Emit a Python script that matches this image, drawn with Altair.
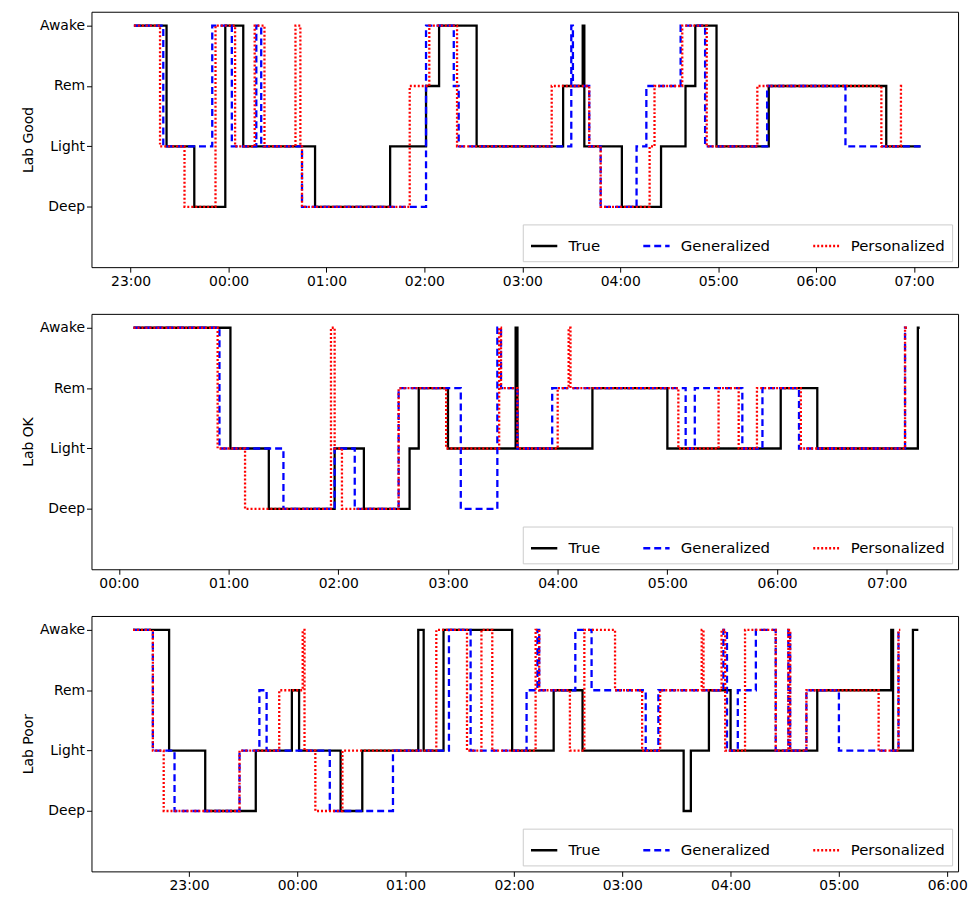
import pandas as pd
import altair as alt

stage_value = {"Deep": 0, "Light": 1, "Rem": 2, "Awake": 3}
series_order = ["True", "Generalized", "Personalized"]

# (clock time, stage) change points; last entry marks the end of the record
good_true = [("23:02", "Awake"), ("23:22", "Light"), ("23:39", "Deep"), ("23:58", "Awake"), ("00:09", "Light"),
             ("00:53", "Deep"), ("01:39", "Light"), ("02:01", "Rem"), ("02:09", "Awake"), ("02:32", "Light"),
             ("03:25", "Rem"), ("03:37", "Awake"), ("03:38", "Light"), ("04:01", "Deep"), ("04:25", "Light"),
             ("04:40", "Rem"), ("04:46", "Awake"), ("04:59", "Light"), ("05:31", "Rem"), ("06:43", "Light"),
             ("07:04", "Light")]
good_gen = [("23:02", "Awake"), ("23:20", "Light"), ("23:50", "Awake"), ("00:02", "Light"), ("00:17", "Awake"),
            ("00:20", "Light"), ("00:45", "Deep"), ("02:01", "Awake"), ("02:18", "Rem"), ("02:21", "Light"),
            ("03:30", "Awake"), ("03:31", "Rem"), ("03:41", "Light"), ("03:48", "Deep"), ("04:10", "Light"),
            ("04:16", "Rem"), ("04:37", "Awake"), ("04:52", "Light"), ("05:30", "Rem"), ("06:18", "Light"),
            ("07:04", "Light")]
good_pers = [("23:02", "Awake"), ("23:18", "Light"), ("23:33", "Deep"), ("23:52", "Awake"), ("00:04", "Light"),
             ("00:16", "Awake"), ("00:22", "Light"), ("00:41", "Awake"), ("00:44", "Light"), ("00:45", "Deep"),
             ("01:51", "Rem"), ("02:03", "Awake"), ("02:20", "Light"), ("03:18", "Rem"), ("03:41", "Light"),
             ("03:48", "Deep"), ("04:18", "Light"), ("04:21", "Rem"), ("04:38", "Awake"), ("04:53", "Light"),
             ("05:24", "Rem"), ("06:40", "Light"), ("06:52", "Rem"), ("06:53", "Rem")]

ok_true = [("00:08", "Awake"), ("01:01", "Light"), ("01:22", "Deep"), ("01:58", "Light"), ("02:14", "Deep"),
           ("02:39", "Light"), ("02:44", "Rem"), ("03:00", "Light"), ("03:37", "Awake"), ("03:38", "Light"),
           ("04:19", "Rem"), ("05:00", "Light"), ("06:02", "Rem"), ("06:22", "Light"), ("07:17", "Awake"),
           ("07:18", "Awake")]
ok_gen = [("00:08", "Awake"), ("00:55", "Light"), ("01:30", "Deep"), ("01:58", "Light"), ("02:09", "Deep"),
          ("02:33", "Rem"), ("03:07", "Deep"), ("03:27", "Awake"), ("03:29", "Rem"), ("03:38", "Light"),
          ("03:57", "Rem"), ("05:10", "Light"), ("05:15", "Rem"), ("05:41", "Light"), ("05:52", "Rem"),
          ("06:12", "Light"), ("07:10", "Awake"), ("07:11", "Awake")]
ok_pers = [("00:08", "Awake"), ("00:54", "Light"), ("01:09", "Deep"), ("01:56", "Awake"), ("01:58", "Light"),
           ("02:02", "Deep"), ("02:33", "Rem"), ("02:59", "Light"), ("03:28", "Awake"), ("03:29", "Rem"),
           ("03:38", "Light"), ("04:00", "Rem"), ("04:06", "Awake"), ("04:07", "Rem"), ("05:06", "Light"),
           ("05:28", "Rem"), ("05:39", "Light"), ("05:49", "Rem"), ("06:13", "Light"), ("07:10", "Awake"),
           ("07:11", "Awake")]

poor_true = [("22:29", "Awake"), ("22:49", "Light"), ("23:09", "Deep"), ("23:37", "Light"), ("23:57", "Rem"),
             ("00:01", "Light"), ("00:24", "Deep"), ("00:36", "Light"), ("01:07", "Awake"), ("01:10", "Light"),
             ("01:21", "Awake"), ("01:59", "Light"), ("02:22", "Rem"), ("02:38", "Light"), ("03:34", "Deep"),
             ("03:38", "Light"), ("03:48", "Rem"), ("04:00", "Light"), ("04:48", "Rem"), ("05:29", "Awake"),
             ("05:30", "Light"), ("05:41", "Awake"), ("05:44", "Awake")]
poor_gen = [("22:29", "Awake"), ("22:40", "Light"), ("22:52", "Deep"), ("23:28", "Light"), ("23:39", "Rem"),
            ("23:43", "Light"), ("00:18", "Deep"), ("00:53", "Light"), ("01:24", "Awake"), ("01:36", "Light"),
            ("02:07", "Rem"), ("02:13", "Awake"), ("02:14", "Rem"), ("02:34", "Awake"), ("02:43", "Rem"),
            ("03:13", "Light"), ("03:20", "Rem"), ("03:56", "Awake"), ("03:58", "Light"), ("04:04", "Rem"),
            ("04:14", "Awake"), ("04:25", "Light"), ("04:32", "Awake"), ("04:33", "Light"), ("04:42", "Rem"),
            ("05:00", "Light"), ("05:33", "Awake"), ("05:34", "Awake")]
poor_pers = [("22:29", "Awake"), ("22:40", "Light"), ("22:46", "Deep"), ("23:28", "Light"), ("23:50", "Rem"),
             ("00:03", "Awake"), ("00:04", "Light"), ("00:10", "Deep"), ("00:25", "Light"), ("01:17", "Awake"),
             ("01:34", "Light"), ("01:42", "Awake"), ("01:48", "Light"), ("02:12", "Awake"), ("02:14", "Rem"),
             ("02:31", "Light"), ("02:39", "Awake"), ("02:56", "Rem"), ("03:11", "Light"), ("03:21", "Rem"),
             ("03:44", "Awake"), ("03:45", "Rem"), ("03:55", "Awake"), ("03:57", "Light"), ("04:08", "Awake"),
             ("04:25", "Light"), ("04:32", "Awake"), ("04:33", "Light"), ("04:42", "Rem"), ("05:22", "Light"),
             ("05:33", "Awake"), ("05:34", "Awake")]

panels = [
    ("Lab Good", [good_true, good_gen, good_pers], ("22:36", "07:27")),
    ("Lab OK", [ok_true, ok_gen, ok_pers], ("23:45", "07:39")),
    ("Lab Poor", [poor_true, poor_gen, poor_pers], ("22:06", "06:06")),
]


def dt(clock):
    h, m = int(clock[:2]), int(clock[3:])
    return alt.DateTime(year=2024, month=1, date=1 if h >= 12 else 2, hours=h, minutes=m, utc=True)


def stamp(clock):
    day = "2024-01-01" if int(clock[:2]) >= 12 else "2024-01-02"
    return f"{day}T{clock}:00Z"


def make_legend():
    return alt.Legend(orient="bottom-right", direction="horizontal", columns=3,
                      symbolType="stroke", symbolStrokeWidth=2.5, symbolSize=700,
                      labelFontSize=15, fillColor="white", strokeColor="#cccccc",
                      padding=7, columnPadding=38, labelOffset=10, offset=6)


def make_panel(title, series, span):
    rows = []
    for name, points in zip(series_order, series):
        for clock, stage in points:
            rows.append({"time": stamp(clock), "stage": stage_value[stage], "model": name})
    df = pd.DataFrame(rows)
    ticks = []
    h = (int(span[0][:2]) + 1) % 24
    while h != int(span[1][:2]) + 1:
        ticks.append(dt(f"{h:02d}:00"))
        h = (h + 1) % 24
    return alt.Chart(df).mark_line(interpolate="step-after", strokeWidth=2.3).encode(
        x=alt.X("time:T", title=None,
                scale=alt.Scale(type="utc", domain=[dt(span[0]), dt(span[1])], nice=False),
                axis=alt.Axis(grid=False, values=ticks,
                              labelExpr="utcFormat(datum.value, '%H:%M')",
                              labelFontSize=14, tickSize=5, domain=False, tickColor="black",
                              labelColor="black")),
        y=alt.Y("stage:Q", title=title,
                scale=alt.Scale(domain=[-1, 3.23], nice=False, zero=False),
                axis=alt.Axis(grid=False, values=[0, 1, 2, 3], domain=False, tickColor="black",
                              labelExpr="['Deep','Light','Rem','Awake'][datum.value]",
                              labelColor="black", titleColor="black",
                              labelFontSize=14, titleFontSize=14, titleFontWeight="normal", tickSize=5)),
        color=alt.Color("model:N", title=None,
                        scale=alt.Scale(domain=series_order, range=["black", "blue", "red"]),
                        legend=make_legend()),
        strokeDash=alt.StrokeDash("model:N", title=None,
                                  scale=alt.Scale(domain=series_order, range=[[1, 0], [7, 4], [2, 2]]),
                                  legend=make_legend()),
    ).properties(width=872, height=257)


chart = alt.vconcat(*[make_panel(t, s, d) for t, s, d in panels], spacing=24).resolve_scale(
    color="independent", strokeDash="independent", x="independent"
).properties(
    padding={"left": 13, "top": 0, "right": 0, "bottom": 0}
).configure(font="DejaVu Sans").configure_view(stroke="black", strokeWidth=1)

chart.save("out.html", embed_options={"renderer": "svg", "actions": False})
